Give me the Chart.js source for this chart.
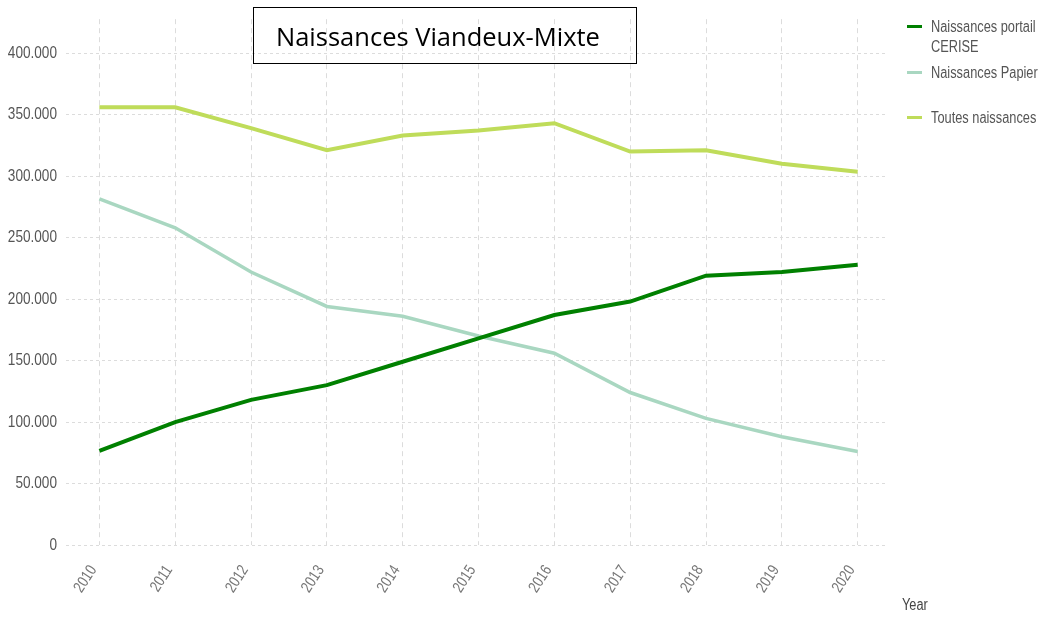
<!DOCTYPE html>
<html>
<head>
<meta charset="utf-8">
<script src="https://cdn.jsdelivr.net/npm/chart.js@4/dist/chart.umd.min.js"></script>
<style>
  html, body { margin: 0; padding: 0; background: #fff; }
  #wrap { position: relative; width: 1043px; height: 617px; }
  #c { position: absolute; left: 0; top: 0; }
  #title {
    position: absolute; left: 253px; top: 7px; width: 384px; height: 57px;
    border: 1.5px solid #000; box-sizing: border-box;
    font-family: "Open Sans", "Noto Sans", sans-serif; font-size: 25.5px; color: #000;
    line-height: 56px; padding-left: 22px; white-space: nowrap;
  }
  #legend {
    position: absolute; left: 907px; top: 17px;
    font-family: "Liberation Sans", Arial, sans-serif;
    font-size: 16px; color: #555; line-height: 20px;
  }
  .item { position: absolute; left: 0; white-space: nowrap; }
  .sw { position: absolute; left: 0; width: 15px; height: 3px; }
  .lbl { position: absolute; left: 24px; transform: scaleX(0.8); transform-origin: 0 0; }
  #xtitle {
    position: absolute; left: 902px; top: 596px;
    font-family: "Liberation Sans", Arial, sans-serif;
    font-size: 16px; color: #444; transform: scaleX(0.8); transform-origin: 0 0;
  }
</style>
</head>
<body>
<div id="wrap">
  <canvas id="c" width="1043" height="617"></canvas>
  <div id="title">Naissances Viandeux-Mixte</div>
  <div id="legend"></div>
  <div id="xtitle">Year</div>
</div>
<script>
const years = [2010, 2011, 2012, 2013, 2014, 2015, 2016, 2017, 2018, 2019, 2020];
const cerise = [76500, 100000, 118000, 130000, 149000, 168000, 187000, 198000, 219000, 222000, 228000];
const papier = [281500, 258000, 222000, 194000, 186000, 170000, 156000, 124000, 103000, 88000, 76000];
const toutes = [356000, 356000, 339000, 321000, 333000, 337000, 343000, 320000, 321000, 310000, 303500];
const yTicks = [0, 50000, 100000, 150000, 200000, 250000, 300000, 350000, 400000];
const seriesNames = ["Naissances portail\nCERISE", "Naissances Papier", "Toutes naissances"];
const seriesColors = ["#008000", "#a9d7c1", "#bfdc5a"];

const toPts = arr => arr.map((v, i) => ({ x: years[i], y: v }));
const fmt = v => v === 0 ? "0" : v.toLocaleString("de-DE");

// HTML legend
const legendTops = [0, 46, 91];
const legend = document.getElementById("legend");
seriesNames.forEach((n, i) => {
  const it = document.createElement("div");
  it.className = "item";
  it.style.top = legendTops[i] + "px";
  const sw = document.createElement("div");
  sw.className = "sw";
  sw.style.background = seriesColors[i];
  sw.style.top = "8px";
  const lb = document.createElement("div");
  lb.className = "lbl";
  lb.innerHTML = n.split("\n").join("<br>");
  it.appendChild(sw); it.appendChild(lb);
  legend.appendChild(it);
});

const sans = '"Liberation Sans", Arial, sans-serif';

// Condense canvas tick text horizontally (narrow-font look), anchored at the text's anchor point
const condensePlugin = {
  id: "condense",
  beforeDraw(chart) {
    const ctx = chart.ctx;
    if (ctx._origFill) return;
    ctx._origFill = ctx.fillText;
    ctx.fillText = function (t, x, y, mw) {
      this.save();
      this.translate(x, y);
      this.scale(0.8, 1);
      if (mw !== undefined) ctx._origFill.call(this, t, 0, 0, mw / 0.8);
      else ctx._origFill.call(this, t, 0, 0);
      this.restore();
    };
  },
  afterDraw(chart) {
    const ctx = chart.ctx;
    if (ctx._origFill) { ctx.fillText = ctx._origFill; delete ctx._origFill; }
  }
};

new Chart(document.getElementById("c"), {
  type: "line",
  data: {
    datasets: [
      { label: seriesNames[0], data: toPts(cerise), borderColor: seriesColors[0], borderWidth: 4, pointRadius: 0, tension: 0 },
      { label: seriesNames[1], data: toPts(papier), borderColor: seriesColors[1], borderWidth: 3.5, pointRadius: 0, tension: 0 },
      { label: seriesNames[2], data: toPts(toutes), borderColor: seriesColors[2], borderWidth: 4, pointRadius: 0, tension: 0 }
    ]
  },
  plugins: [condensePlugin],
  options: {
    responsive: false,
    animation: false,
    layout: { padding: { top: 18, right: 155, left: 0, bottom: 0 } },
    plugins: { legend: { display: false }, tooltip: { enabled: false }, title: { display: false } },
    scales: {
      x: {
        type: "linear",
        min: 2009.56,
        max: 2020.40,
        afterBuildTicks: s => { s.ticks = years.map(v => ({ value: v })); },
        afterFit: s => { s.height = 72; },
        grid: { color: "#dcdcdc", lineWidth: 1, drawTicks: false },
        border: { display: false, dash: [5, 4] },
        ticks: {
          autoSkip: false, minRotation: 57, maxRotation: 57, padding: 17, labelOffset: -6,
          color: "#777", font: { family: sans, size: 16 },
          callback: v => String(v)
        }
      },
      y: {
        min: 0,
        max: 427600,
        afterBuildTicks: s => { s.ticks = yTicks.map(v => ({ value: v })); },
        afterFit: s => { s.width = 66; },
        grid: { color: "#dcdcdc", lineWidth: 1, drawTicks: false },
        border: { display: false, dash: [3, 3] },
        ticks: {
          padding: 9, color: "#555", font: { family: sans, size: 17 },
          callback: v => fmt(v)
        }
      }
    }
  }
});
</script>
</body>
</html>
